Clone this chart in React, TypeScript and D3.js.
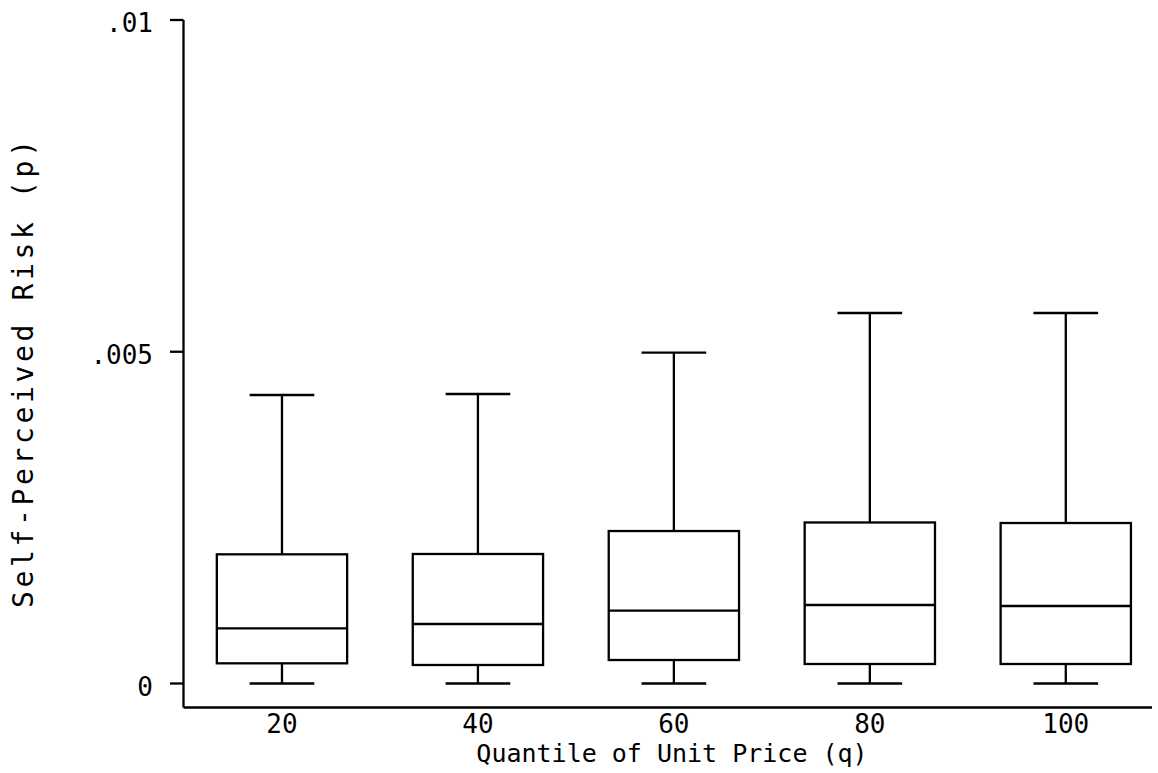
import React from "react";
import * as d3 from "d3";

const quantiles = [20, 40, 60, 80, 100];
const whiskerLow = [0, 0, 0, 0, 0];
const q1 = [0.000304, 0.000279, 0.000354, 0.000294, 0.000294];
const median = [0.000832, 0.000897, 0.001097, 0.001183, 0.001168];
const q3 = [0.001947, 0.001952, 0.002298, 0.002427, 0.002419];
const whiskerHigh = [0.004348, 0.004363, 0.004986, 0.005584, 0.005584];
const yTicks = [0, 0.005, 0.01];
const yTickLabels = ["0", ".005", ".01"];
const xTickLabels = ["20", "40", "60", "80", "100"];
const xTitle = "Quantile of Unit Price (q)";
const yTitle = "Self-Perceived Risk (p)";

const W = 1158;
const H = 773;
const FONT = "'DejaVu Sans Mono', monospace";

export default function App() {
  const x = d3.scaleLinear().domain([10, 108.8]).range([184, 1152]);
  const y = d3.scaleLinear().domain([0, 0.01]).range([683.5, 20]);
  const boxHalf = (x(13.3) - x(0)) / 2;
  const capHalf = (x(6.6) - x(0)) / 2;
  const sw = 2.3;

  return (
    <svg
      width={W}
      height={H}
      style={{ position: "absolute", left: 0, top: 0, background: "#fff" }}
    >
      <rect x={0} y={0} width={W} height={H} fill="#fff" />
      {/* axes */}
      <line x1={183.5} x2={183.5} y1={y(0.01)} y2={707.5} stroke="#000" strokeWidth={sw} />
      <line x1={183.5} x2={1152} y1={707.5} y2={707.5} stroke="#000" strokeWidth={sw} />
      {yTicks.map((t, i) => (
        <g key={"yt" + i}>
          <line x1={170} x2={183.5} y1={y(t)} y2={y(t)} stroke="#000" strokeWidth={sw} />
          <text
            x={153}
            y={y(t) + 12}
            textAnchor="end"
            fontFamily={FONT}
            fontSize={26}
            fill="#000"
          >
            {yTickLabels[i]}
          </text>
        </g>
      ))}
      {quantiles.map((q, i) => (
        <text
          key={"xt" + i}
          x={x(q)}
          y={733}
          textAnchor="middle"
          fontFamily={FONT}
          fontSize={26}
          fill="#000"
        >
          {xTickLabels[i]}
        </text>
      ))}
      <text
        x={672}
        y={762}
        textAnchor="middle"
        fontFamily={FONT}
        fontSize={25}
        fill="#000"
      >
        {xTitle}
      </text>
      <text
        transform={`translate(33,${374}) rotate(-90)`}
        textAnchor="middle"
        fontFamily={FONT}
        fontSize={28}
        fill="#000"
        textLength={468}
        lengthAdjust="spacing"
      >
        {yTitle}
      </text>
      {/* boxes */}
      {quantiles.map((q, i) => {
        const cx = x(q);
        return (
          <g key={"b" + i} stroke="#000" strokeWidth={sw} fill="none">
            <line x1={cx} x2={cx} y1={y(q3[i])} y2={y(whiskerHigh[i])} />
            <line x1={cx - capHalf} x2={cx + capHalf} y1={y(whiskerHigh[i])} y2={y(whiskerHigh[i])} />
            <line x1={cx} x2={cx} y1={y(q1[i])} y2={y(whiskerLow[i])} />
            <line x1={cx - capHalf} x2={cx + capHalf} y1={y(whiskerLow[i])} y2={y(whiskerLow[i])} />
            <rect
              x={cx - boxHalf}
              y={y(q3[i])}
              width={boxHalf * 2}
              height={y(q1[i]) - y(q3[i])}
            />
            <line x1={cx - boxHalf} x2={cx + boxHalf} y1={y(median[i])} y2={y(median[i])} />
          </g>
        );
      })}
    </svg>
  );
}
